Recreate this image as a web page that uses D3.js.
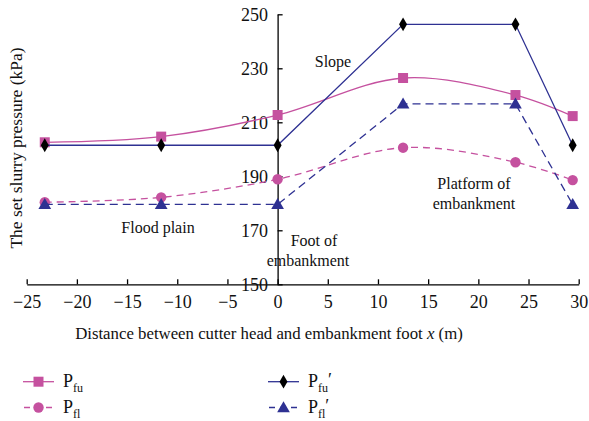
<!DOCTYPE html>
<html>
<head>
<meta charset="utf-8">
<script src="https://cdn.jsdelivr.net/npm/d3@7"></script>
</head>
<body style="margin:0">
<svg id="chart" width="589" height="421"></svg>
<script>
// Distance between cutter head and embankment foot (m)
const xValues = [-23.2, -11.6, 0, 12.5, 23.7, 29.4];
// Set slurry pressures (kPa)
const pfu  = [202.6, 204.7, 212.7, 226.4, 220.1, 212.3];
const pfl  = [180.4, 182.2, 188.9, 200.6, 195.2, 188.6];
const pfuP = [201.5, 201.5, 201.5, 246.3, 246.3, 201.5];
const pflP = [179.6, 179.6, 179.6, 216.8, 216.8, 179.6];

const xTicks = [-25, -20, -15, -10, -5, 0, 5, 10, 15, 20, 25, 30];
const yTicks = [150, 170, 190, 210, 230, 250];

const MAGENTA = "#c5519f";
const BLUE = "#2e3192";
const FONT = '"Times New Roman"';

const svg = d3.select("#chart");
const x = d3.scaleLinear().domain([-25, 30]).range([26.7, 578.7]);
const y = d3.scaleLinear().domain([150, 250]).range([284.3, 14.3]);

// Every label goes through one helper so they share the serif face
function label(sel, size) {
  return sel.style("font-family", FONT).style("font-size", size + "px").attr("fill", "#111");
}

// Axes: x axis at the bottom, y axis crossing at x = 0
const xAxis = svg.append("g")
  .attr("transform", `translate(0,${y(150)})`)
  .call(d3.axisBottom(x).tickValues(xTicks).tickSizeInner(-5).tickSizeOuter(0).tickPadding(11)
    .tickFormat(d => d < 0 ? "\u2212" + Math.abs(d) : d));
const yAxis = svg.append("g")
  .attr("transform", `translate(${x(0)},0)`)
  .call(d3.axisLeft(y).tickValues(yTicks).tickSizeInner(-5).tickSizeOuter(0).tickPadding(9.5));
[xAxis, yAxis].forEach(g => {
  g.attr("font-family", null).attr("font-size", null);
  g.selectAll("path, line").attr("stroke", "#000").attr("stroke-width", 1.3);
  label(g.selectAll("text"), 18);
});

const series = [
  { name: "Pfu", values: pfu, color: MAGENTA, dash: null, smooth: true, marker: "square", mcolor: MAGENTA },
  { name: "Pfl", values: pfl, color: MAGENTA, dash: "7,5", smooth: true, marker: "circle", mcolor: MAGENTA },
  { name: "PfuP", values: pfuP, color: BLUE, dash: null, smooth: false, marker: "diamond", mcolor: "#000" },
  { name: "PflP", values: pflP, color: BLUE, dash: "8,5", smooth: false, marker: "triangle", mcolor: BLUE }
];

const symbolFor = {
  square: d3.symbol().type(d3.symbolSquare).size(100),
  circle: d3.symbol().type(d3.symbolCircle).size(85),
  diamond: d3.symbol().type(d3.symbolDiamond).size(55),
  triangle: d3.symbol().type(d3.symbolTriangle).size(70)
};

series.forEach(s => {
  const pts = xValues.map((xv, i) => [xv, s.values[i]]);
  const line = d3.line()
    .x(d => x(d[0])).y(d => y(d[1]))
    .curve(s.smooth ? d3.curveCatmullRom.alpha(0.5) : d3.curveLinear);
  svg.append("path")
    .attr("d", line(pts))
    .attr("fill", "none")
    .attr("stroke", s.color)
    .attr("stroke-width", 1.3)
    .attr("stroke-dasharray", s.dash);
  svg.append("g").selectAll("path")
    .data(pts).join("path")
    .attr("transform", d => `translate(${x(d[0])},${y(d[1])})` + (s.marker === "triangle" ? " translate(0,1)" : ""))
    .attr("d", symbolFor[s.marker]())
    .attr("fill", s.mcolor);
});

// Region annotations
const notes = [
  { lines: ["Slope"], x: 333, y: 67 },
  { lines: ["Flood plain"], x: 158, y: 233 },
  { lines: ["Foot of", "embankment"], x: 311, y: 246, dxs: [3, -3] },
  { lines: ["Platform of", "embankment"], x: 474, y: 189 }
];
notes.forEach(n => {
  n.lines.forEach((t, i) => {
    label(svg.append("text"), 16)
      .attr("x", n.x + (n.dxs ? n.dxs[i] : 0))
      .attr("y", n.y + i * 20)
      .attr("text-anchor", "middle")
      .text(t);
  });
});

// Axis titles
label(svg.append("text"), 17.5)
  .attr("transform", `translate(22,148) rotate(-90)`)
  .attr("text-anchor", "middle")
  .text("The set slurry pressure (kPa)");

const xt = label(svg.append("text"), 16.8)
  .attr("x", 269).attr("y", 339)
  .attr("text-anchor", "middle");
xt.append("tspan").text("Distance between cutter head and embankment foot ");
xt.append("tspan").style("font-style", "italic").text("x");
xt.append("tspan").text(" (m)");

// Legend
const legend = [
  { s: series[0], sub: "fu", prime: false, lx: 23, ly: 381.7 },
  { s: series[1], sub: "fl", prime: false, lx: 23, ly: 407.5 },
  { s: series[2], sub: "fu", prime: true, lx: 268, ly: 381.7 },
  { s: series[3], sub: "fl", prime: true, lx: 268, ly: 407.5 }
];
legend.forEach(l => {
  const g = svg.append("g");
  g.append("line")
    .attr("x1", l.lx).attr("x2", l.lx + 31)
    .attr("y1", l.ly).attr("y2", l.ly)
    .attr("stroke", l.s.color).attr("stroke-width", 1.3)
    .attr("stroke-dasharray", l.s.dash ? "6,5" : null)
    .attr("stroke-dashoffset", l.s.dash ? -1 : null);
  g.append("path")
    .attr("transform", `translate(${l.lx + 15.5},${l.ly + (l.s.marker === "triangle" ? 1 : 0)})`)
    .attr("d", symbolFor[l.s.marker]())
    .attr("fill", l.s.mcolor);
  const t = label(g.append("text"), 18)
    .attr("x", l.lx + 40).attr("y", l.ly + 5);
  t.append("tspan").text("P");
  t.append("tspan").style("font-size", "12px").attr("dy", 5).text(l.sub);
  if (l.prime) t.append("tspan").attr("dy", -6).style("font-size", "18px").text("\u2032");
});
</script>
</body>
</html>
